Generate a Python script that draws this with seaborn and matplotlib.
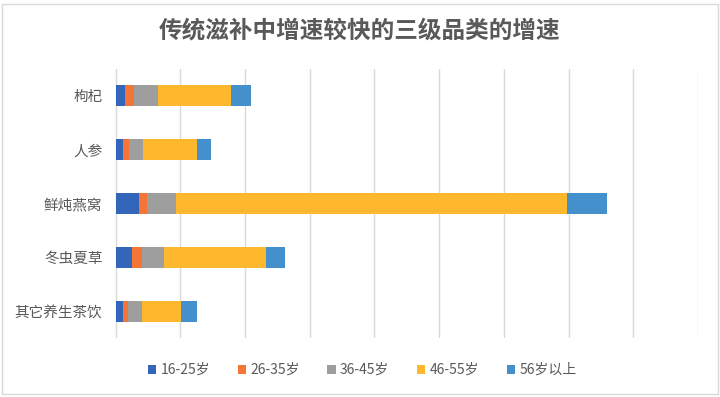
import matplotlib
matplotlib.use("Agg")
import matplotlib.pyplot as plt
import seaborn as sns
import pandas as pd
import numpy as np
from matplotlib.patches import Patch, Rectangle

# ---- data ----
categories = ["枸杞", "人参", "鲜炖燕窝", "冬虫夏草", "其它养生茶饮"]
series_names = ["16-25岁", "26-35岁", "36-45岁", "46-55岁", "56岁以上"]
age_16_25 = [0.14, 0.11, 0.36, 0.25, 0.11]
age_26_35 = [0.15, 0.09, 0.12, 0.15, 0.08]
age_36_45 = [0.37, 0.23, 0.46, 0.34, 0.22]
age_46_55 = [1.12, 0.83, 6.03, 1.59, 0.60]
age_56_up = [0.31, 0.22, 0.63, 0.29, 0.25]
colors = ["#3366BB", "#F47535", "#9E9E9E", "#FDB82E", "#4490CC"]
title = "传统滋补中增速较快的三级品类的增速"

sns.set_theme(style="white")
plt.rcParams["font.family"] = ["Noto Sans CJK SC", "DejaVu Sans"]

series = [age_16_25, age_26_35, age_36_45, age_46_55, age_56_up]
cum = np.cumsum(np.array(series), axis=0)

fig = plt.figure(figsize=(7.2, 3.97), dpi=100)
ax = fig.add_axes([0.1597, 0.1486, 0.8097, 0.6776])

# draw cumulative totals from largest to smallest so stacks appear
for i in range(len(series) - 1, -1, -1):
    df = pd.DataFrame({"cat": categories, "val": cum[i]})
    sns.barplot(data=df, x="val", y="cat", orient="h", color=colors[i],
                saturation=1, width=0.39, linewidth=0, ax=ax, zorder=3)

ax.set_xlim(-0.01, 9)
ax.set_ylim(4.5, -0.5)
ax.set_xticks(np.arange(0, 10, 1))
ax.set_xticklabels([])
ax.tick_params(axis="x", length=0)
ax.tick_params(axis="y", length=0, pad=9, labelsize=10.5, labelcolor="#595959")
ax.xaxis.grid(True, color="#D9D9D9", linewidth=1, zorder=0)
ax.yaxis.grid(False)
ax.set_axisbelow(True)
ax.set_xlabel("")
ax.set_ylabel("")
for s in ax.spines.values():
    s.set_visible(False)

fig.text(0.5, 1 - 30 / 397, title, ha="center", va="center",
         fontsize=17, color="#595959", fontweight="bold")

handles = [Patch(facecolor=c, edgecolor="none", label=n) for c, n in zip(colors, series_names)]
fig.legend(handles=handles, loc="center", bbox_to_anchor=(0.503, 1 - 370 / 397),
           ncol=5, frameon=False, fontsize=10, handlelength=0.6, handleheight=0.6,
           handletextpad=0.3, columnspacing=2.0, labelcolor="#595959")

fig.patches.append(Rectangle((1.5 / 720, 3.5 / 397), 716 / 720, 390 / 397,
                             transform=fig.transFigure, fill=False,
                             edgecolor="#D9D9D9", linewidth=1))

fig.savefig("out.png", dpi=100)
